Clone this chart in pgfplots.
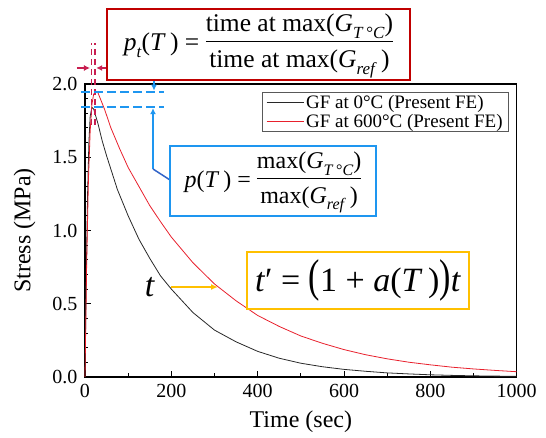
\documentclass[border=0pt]{standalone}
\usepackage{graphicx}
\usepackage{fontspec}
\setmainfont{Liberation Serif}
\newfontfamily\tnr{Liberation Serif}
\usepackage{pgfplots}
\pgfplotsset{compat=1.18}
\usetikzlibrary{arrows.meta}
\definecolor{cblack}{RGB}{40,40,40}
\definecolor{cred}{RGB}{232,32,44}
\definecolor{boxred}{RGB}{192,0,0}
\definecolor{dashred}{RGB}{200,30,80}
\definecolor{cblue}{RGB}{30,150,240}
\definecolor{cblued}{RGB}{50,100,200}
\definecolor{cgold}{RGB}{255,192,0}
\newcommand{\sbs}[2]{\raisebox{-0.28em}{\fontsize{#1}{#1}\selectfont #2}}
\begin{document}
\begin{tikzpicture}[x=1pt,y=1pt]
\path[use as bounding box] (-85,-61) rectangle (461,377);
\begin{axis}[
  at={(0,0)}, anchor=south west,
  scale only axis, width=431.7pt, height=293pt,
  xmin=0, xmax=1000, ymin=0, ymax=2,
  xtick={0,200,400,600,800,1000},
  ytick={0,0.5,1,1.5,2},
  minor x tick num=1, minor y tick num=4,
  tick align=inside, tick pos=left,
  major tick length=6pt, minor tick length=3.5pt,
  axis line style={line width=1.2pt},
  every tick/.style={black, line width=0.9pt},
  /pgf/number format/assume math mode=true,
  /pgf/number format/1000 sep={},
  yticklabel style={/pgf/number format/fixed,/pgf/number format/fixed zerofill,/pgf/number format/precision=1, xshift=-4pt},
  xticklabel style={yshift=-4pt},
  tick label style={font=\fontsize{20}{24}\selectfont},
  label style={font=\fontsize{24}{28}\selectfont},
  xlabel={Time (sec)}, ylabel={Stress (MPa)},
  xlabel style={yshift=-6pt},
  ylabel style={yshift=10pt},
  clip=false,
  legend style={at={(axis description cs:0.982,0.973)}, anchor=north east,
    draw=black!65, line width=0.6pt, font=\fontsize{19}{21}\selectfont,
    inner xsep=4pt, inner ysep=1pt, row sep=0pt},
  legend cell align=left,
  legend image code/.code={\draw[#1] (0pt,0pt) -- (37pt,0pt);},
]
\addplot[cblack, line width=0.8pt] coordinates {
(0,0)(3,0.70)(6,1.25)(9,1.60)(12,1.78)(16,1.84)(20,1.83)(30,1.73)(40,1.61)(50,1.51)(75,1.28)(100,1.10)(125,0.94)(150,0.81)(175,0.69)(200,0.60)(250,0.44)(300,0.32)(350,0.24)(400,0.175)(450,0.128)(500,0.094)(550,0.070)(600,0.052)(650,0.039)(700,0.028)(750,0.021)(800,0.015)(850,0.011)(900,0.008)(950,0.006)(1000,0.005)};
\addlegendentry{GF at 0°C (Present FE)}
\addplot[cred, line width=0.8pt] coordinates {
(0,0)(4,0.80)(8,1.35)(12,1.68)(16,1.86)(20,1.93)(25,1.95)(30,1.94)(45,1.83)(60,1.70)(80,1.56)(100,1.43)(125,1.30)(150,1.17)(175,1.06)(200,0.955)(250,0.78)(300,0.635)(350,0.52)(400,0.42)(450,0.345)(500,0.28)(550,0.23)(600,0.187)(650,0.152)(700,0.124)(750,0.101)(800,0.083)(850,0.067)(900,0.055)(950,0.045)(1000,0.036)};
\addlegendentry{GF at 600°C (Present FE)}
\end{axis}
% red peak-time markers
\draw[dashred, line width=1.8pt, dash pattern=on 6pt off 4pt] (6.5,252) -- (6.5,334);
\draw[dashred, line width=1.8pt, dash pattern=on 6pt off 4pt] (9.7,252) -- (9.7,334);
\draw[-{Latex[length=6pt,width=6pt]}, dashred, line width=1.5pt] (-8,309) -- (5,309);
\draw[-{Latex[length=6pt,width=6pt]}, dashred, line width=1.5pt] (22,309) -- (11.2,309);
% blue peak-value markers
\draw[cblue, line width=1.8pt, dash pattern=on 9pt off 4pt] (-4,285) -- (79,285);
\draw[cblue, line width=1.8pt, dash pattern=on 9pt off 4pt] (-4,270) -- (79,270);
\draw[-{Latex[length=6pt,width=6pt]}, cblue, line width=1.5pt] (69,297) -- (69,286.4);
\draw[-{Latex[length=6pt,width=6pt]}, cblue, line width=1.5pt] (68,208) -- (68,268.8);
\draw[cblued, line width=1.5pt] (68,208) -- (85,197);
% red box
\node[draw=boxred, line width=2.5pt, fill=white, minimum width=303pt, minimum height=71pt, inner sep=0pt, font=\tnr] at (173.5,332.5)
 {\tnr\fontsize{25.5}{28}\selectfont\setlength{\arrayrulewidth}{1.1pt}\renewcommand{\arraystretch}{1.05}%
  \textit{p}\sbs{17}{\textit{t}}(\textit{T}\,)~=~\begin{tabular}{@{}c@{}}time at max(\textit{G}\sbs{17}{\textit{T}\,°\textit{C}})\\[1pt]\hline\rule{0pt}{25pt}time at max(\textit{G}\sbs{17}{\textit{ref}}\,)\end{tabular}};
% blue box
\node[draw=cblue, line width=2pt, fill=white, minimum width=206pt, minimum height=70pt, inner sep=0pt, font=\tnr] at (188,196)
 {\tnr\fontsize{24}{27}\selectfont\setlength{\arrayrulewidth}{1.1pt}\renewcommand{\arraystretch}{1.05}%
  \textit{p}(\textit{T}\,)~=~\begin{tabular}{@{}c@{}}max(\textit{G}\sbs{16}{\textit{T}\,°\textit{C}})\\[1pt]\hline\rule{0pt}{24pt}max(\textit{G}\sbs{16}{\textit{ref}}\,)\end{tabular}};
% yellow box
\node[draw=cgold, line width=2pt, fill=white, minimum width=222pt, minimum height=57pt, inner sep=0pt, font=\tnr] at (273,96.5)
 {\tnr\fontsize{34}{40}\selectfont\textit{t}′~=~\scalebox{1}[1.35]{(}1~+~\textit{a}(\textit{T}\,)\scalebox{1}[1.35]{)}\textit{t}};
\node[font=\tnr] at (65,90) {\tnr\fontsize{34}{40}\selectfont\textit{t}};
\draw[-{Latex[length=7pt,width=6pt]}, cgold, line width=1.6pt] (86,90) -- (133,90);
\end{tikzpicture}
\end{document}
